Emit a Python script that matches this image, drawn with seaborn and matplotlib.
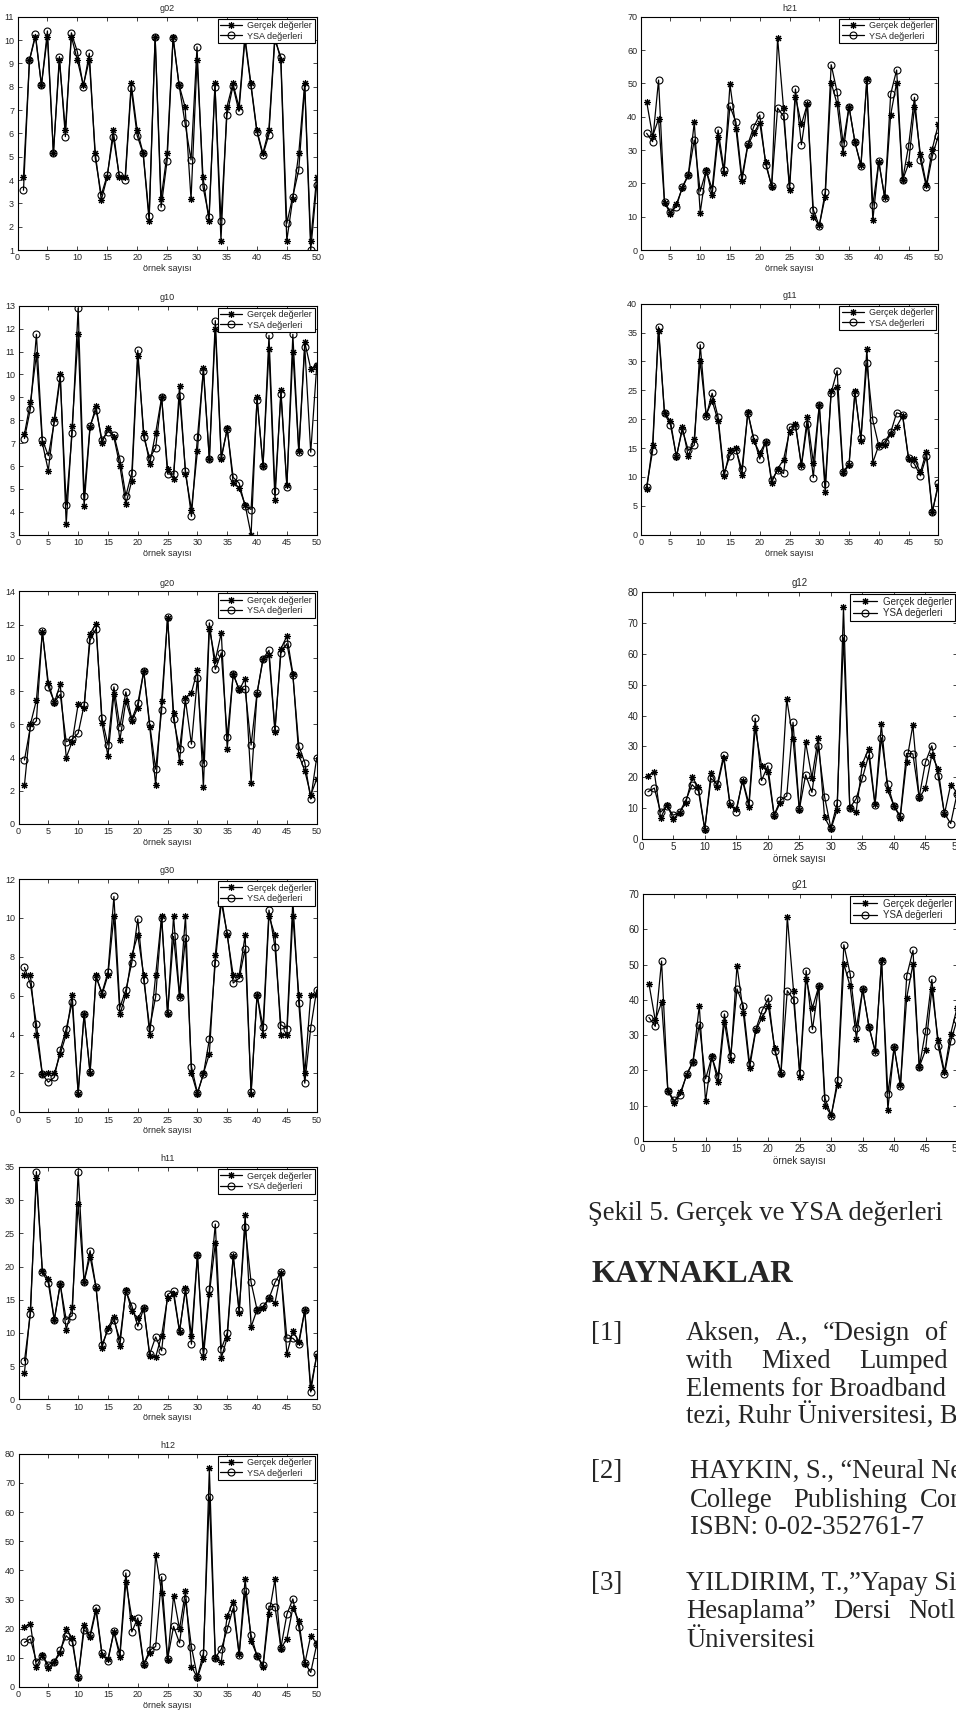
import matplotlib
matplotlib.use("Agg")
import matplotlib.pyplot as plt
import numpy as np
import seaborn as sns

# sample index (örnek sayısı)
x = np.arange(1, 51)

g02_gercek = [4.14, 9.14, 10.15, 8.07, 10.15, 5.14, 9.14, 6.14, 10.15, 9.14,
              8.07, 9.14, 5.14, 3.14, 4.14, 6.14, 4.14, 4.14, 8.14, 6.14,
              5.14, 2.23, 10.15, 3.2, 5.14, 10.15, 8.07, 7.14, 3.17, 9.14,
              4.14, 2.23, 8.14, 1.4, 7.14, 8.14, 7.14, 10.15, 8.14, 6.14,
              5.14, 6.14, 10.15, 9.14, 1.4, 3.2, 5.14, 8.14, 1.4, 4.14]
g02_ysa = [3.56, 9.14, 10.24, 8.06, 10.39, 5.14, 9.29, 5.86, 10.31, 9.5,
           8.0, 9.43, 4.93, 3.36, 4.21, 5.86, 4.21, 4.0, 7.93, 5.9,
           5.14, 2.46, 10.15, 2.83, 4.83, 10.07, 8.07, 6.43, 4.86, 9.71,
           3.71, 2.43, 8.0, 2.26, 6.79, 8.03, 6.94, 10.0, 8.06, 6.07,
           5.07, 5.93, 10.0, 9.29, 2.14, 3.29, 4.43, 8.0, 1.0, 3.79]

g10_gercek = [7.4, 8.8, 10.85, 7.0, 5.8, 8.05, 10.0, 3.45, 7.75, 11.75,
              4.25, 7.7, 8.6, 7.0, 7.65, 7.25, 6.0, 4.35, 5.35, 10.8,
              7.45, 6.1, 7.45, 9.0, 5.85, 5.45, 9.5, 5.65, 4.1, 6.65,
              10.3, 6.3, 12.0, 6.3, 7.65, 5.25, 5.05, 4.3, 3.0, 9.0,
              6.0, 11.1, 4.5, 9.3, 5.15, 11.0, 6.65, 11.4, 10.25, 10.4]
g10_ysa = [7.2, 8.5, 11.75, 7.15, 6.45, 7.9, 9.85, 4.3, 7.45, 12.9,
           4.7, 7.75, 8.45, 7.15, 7.5, 7.35, 6.3, 4.7, 5.7, 11.05,
           7.25, 6.35, 6.8, 9.0, 5.65, 5.65, 9.05, 5.8, 3.8, 7.25,
           10.15, 6.3, 12.35, 6.4, 7.6, 5.5, 5.25, 4.25, 4.1, 8.9,
           6.0, 11.7, 4.9, 9.15, 5.1, 11.75, 6.6, 11.2, 6.6, 10.35]

g20_gercek = [2.35, 6.0, 7.45, 11.55, 8.5, 7.3, 8.4, 4.0, 4.95, 7.2,
              6.95, 11.45, 12.05, 6.05, 4.1, 7.8, 5.05, 7.4, 6.2, 7.0,
              9.2, 5.85, 2.35, 7.4, 12.4, 6.7, 3.75, 7.6, 7.9, 9.25,
              2.2, 11.75, 9.85, 11.5, 4.5, 9.05, 8.05, 8.75, 2.45, 7.85,
              9.9, 10.15, 5.55, 10.55, 11.3, 9.05, 4.15, 3.2, 1.75, 2.7]
g20_ysa = [3.85, 5.85, 6.2, 11.6, 8.25, 7.35, 7.8, 4.95, 5.1, 5.45,
           7.15, 11.05, 11.75, 6.35, 4.75, 8.25, 5.85, 7.95, 6.3, 7.25,
           9.2, 6.0, 3.3, 6.85, 12.45, 6.3, 4.5, 7.45, 4.8, 8.8,
           3.65, 12.1, 9.3, 10.3, 5.25, 9.0, 8.1, 8.1, 4.75, 7.9,
           9.95, 10.45, 5.7, 10.3, 10.85, 8.95, 4.7, 3.7, 1.5, 4.0]

g30_gercek = [7.05, 7.05, 4.0, 1.95, 2.0, 2.0, 3.0, 4.0, 6.05, 0.95,
              5.05, 2.0, 7.05, 6.05, 7.05, 10.1, 5.05, 6.05, 8.1, 9.1,
              7.05, 4.0, 7.05, 10.1, 5.05, 10.1, 6.0, 10.1, 2.0, 0.95,
              2.0, 3.0, 8.1, 11.1, 9.1, 7.05, 7.05, 9.1, 0.95, 6.05,
              4.0, 10.1, 9.1, 4.0, 4.0, 10.1, 6.05, 2.0, 6.05, 6.05]
g30_ysa = [7.45, 6.6, 4.55, 1.95, 1.55, 1.8, 3.2, 4.3, 5.65, 1.0,
           5.05, 2.05, 6.95, 6.15, 7.2, 11.1, 5.4, 6.3, 7.7, 9.95,
           6.8, 4.35, 5.95, 10.0, 5.1, 9.05, 5.95, 8.95, 2.35, 1.0,
           1.95, 3.75, 7.7, 10.8, 9.2, 6.65, 6.9, 8.4, 1.05, 6.05,
           4.4, 10.4, 8.5, 4.5, 4.3, 10.9, 5.6, 1.5, 4.35, 6.3]

h11_gercek = [4.0, 13.6, 33.3, 19.3, 18.2, 12.0, 17.4, 10.5, 13.9, 29.4,
              17.7, 21.5, 16.8, 7.8, 10.8, 12.4, 8.1, 16.5, 13.3, 12.2,
              13.8, 6.5, 6.4, 9.6, 15.3, 15.8, 10.2, 16.7, 9.6, 21.8,
              6.3, 15.9, 23.5, 6.2, 9.3, 21.6, 13.0, 27.7, 10.9, 13.5,
              13.7, 15.2, 14.5, 19.1, 6.8, 10.3, 8.7, 13.4, 1.9, 6.5]
h11_ysa = [5.8, 12.9, 34.3, 19.2, 17.5, 11.9, 17.3, 12.0, 12.6, 34.3,
           17.7, 22.4, 16.9, 8.2, 10.5, 11.9, 9.0, 16.3, 14.1, 11.0,
           13.7, 6.8, 9.4, 7.3, 15.8, 16.3, 10.3, 16.5, 8.3, 21.7,
           7.3, 16.6, 26.4, 7.6, 10.0, 21.7, 13.4, 26.0, 17.6, 13.5,
           14.0, 15.2, 17.6, 19.2, 9.2, 9.2, 8.3, 13.4, 1.1, 6.8]

h12_gercek = [20.5, 21.7, 6.9, 11.0, 6.6, 8.5, 11.8, 20.0, 16.8, 3.0,
              21.4, 17.0, 26.2, 11.0, 9.6, 18.8, 10.4, 35.9, 23.8, 21.8,
              7.6, 11.8, 45.3, 32.4, 9.3, 31.3, 19.9, 32.8, 7.0, 3.2,
              9.5, 75.0, 10.0, 8.7, 24.4, 29.3, 11.2, 37.1, 15.8, 10.8,
              6.9, 24.9, 36.9, 13.2, 16.6, 27.1, 22.8, 8.0, 17.6, 15.0]
h12_ysa = [15.3, 16.5, 8.7, 10.7, 7.7, 8.6, 12.6, 17.6, 15.5, 3.3,
           19.6, 17.8, 27.2, 11.5, 8.9, 19.2, 11.5, 39.1, 18.9, 23.7,
           7.8, 12.6, 13.9, 37.8, 9.6, 20.8, 15.1, 30.1, 13.7, 3.5,
           11.6, 65.2, 10.1, 13.0, 19.8, 27.1, 11.0, 32.8, 17.8, 10.6,
           7.5, 27.7, 27.6, 13.5, 24.9, 30.2, 20.5, 8.3, 5.0, 14.6]

h21_gercek = [44.5, 34.2, 39.3, 14.2, 10.9, 13.8, 18.6, 22.5, 38.3, 11.2,
              24.0, 16.6, 33.8, 23.0, 49.7, 36.4, 20.6, 31.4, 35.0, 38.2,
              26.4, 19.0, 63.6, 42.5, 18.0, 46.0, 37.7, 43.8, 9.9, 7.4,
              16.0, 50.2, 43.8, 29.0, 43.0, 32.3, 25.5, 51.2, 8.9, 26.5,
              15.8, 40.6, 50.2, 21.0, 25.8, 43.0, 28.7, 19.6, 30.4, 37.7]
h21_ysa = [35.0, 32.5, 51.0, 14.3, 11.5, 13.0, 19.0, 22.5, 33.0, 17.6,
           23.8, 18.3, 36.0, 24.1, 43.1, 38.4, 21.9, 31.7, 37.0, 40.5,
           25.6, 19.3, 42.6, 40.1, 19.2, 48.3, 31.6, 44.0, 12.1, 7.2,
           17.4, 55.6, 47.4, 32.1, 43.0, 32.3, 25.2, 51.0, 13.4, 26.6,
           15.6, 46.8, 54.0, 21.0, 31.2, 45.8, 27.0, 18.9, 28.2, 34.3]

g11_gercek = [7.9, 15.6, 35.3, 21.0, 19.7, 13.4, 18.6, 13.6, 16.6, 30.1,
              20.8, 23.2, 19.7, 10.1, 14.7, 15.0, 10.3, 21.2, 16.3, 14.1,
              16.1, 9.0, 11.4, 13.0, 17.8, 19.1, 12.1, 20.3, 12.5, 22.4,
              7.4, 24.9, 25.6, 10.6, 12.1, 24.8, 16.3, 32.1, 12.5, 15.5,
              15.6, 17.5, 18.7, 20.6, 13.1, 13.1, 10.8, 14.4, 4.0, 8.5]
g11_ysa = [8.3, 14.5, 36.0, 21.0, 19.0, 13.6, 18.2, 14.6, 15.5, 32.9,
           20.5, 24.5, 20.4, 10.6, 13.7, 14.7, 11.3, 21.1, 16.7, 13.1,
           16.1, 9.4, 11.2, 10.6, 18.6, 18.9, 11.9, 19.2, 9.9, 22.4,
           8.7, 24.6, 28.4, 10.9, 12.2, 24.6, 16.7, 29.7, 19.8, 15.4,
           16.1, 17.7, 21.1, 20.8, 13.3, 12.2, 10.2, 13.6, 3.9, 8.9]

# g12 and g21 repeat the h12 / h21 series in the original figure
g12_gercek, g12_ysa = h12_gercek, h12_ysa
g21_gercek, g21_ysa = h21_gercek, h21_ysa

W, H = 956, 1716

sns.set_style("ticks")
plt.rcParams["font.family"] = ["Liberation Sans", "DejaVu Sans"]

fig = plt.figure(figsize=(W / 100, H / 100), dpi=100)


def px_axes(left, top, right, bottom):
    return fig.add_axes([left / W, 1 - bottom / H, (right - left) / W, (bottom - top) / H])


def panel(rect, title, gercek, ysa, ylo, yhi, ystep, fs=6.5):
    ax = px_axes(*rect)
    sns.lineplot(x=x, y=gercek, ax=ax, color="k", lw=0.9, marker=(8, 2, 0),
                 markersize=5, markeredgecolor="k", markeredgewidth=0.8,
                 label="Gerçek değerler", errorbar=None, sort=False)
    sns.lineplot(x=x, y=ysa, ax=ax, color="k", lw=0.9, marker="o",
                 markersize=5, markerfacecolor="none", markeredgecolor="k",
                 markeredgewidth=0.8, label="YSA değerleri", errorbar=None, sort=False)
    ax.set_xlim(0, 50)
    ax.set_ylim(ylo, yhi)
    ax.set_xticks(np.arange(0, 51, 5))
    ax.set_yticks(np.arange(ylo, yhi + ystep / 2, ystep))
    ax.tick_params(direction="in", top=True, right=True, length=3, width=0.6,
                   labelsize=fs, pad=2.5)
    for s in ax.spines.values():
        s.set_color("k")
        s.set_linewidth(0.8)
    ax.set_title(title, fontsize=fs, pad=4)
    ax.set_xlabel("örnek sayısı", fontsize=fs, labelpad=1)
    ax.set_ylabel("")
    ax.legend(loc="upper right", fontsize=fs, frameon=True, fancybox=False,
              edgecolor="k", framealpha=1, borderaxespad=0.2, borderpad=0.3,
              labelspacing=0.15, handlelength=2.4, handletextpad=0.6)
    ax.get_legend().get_frame().set_linewidth(0.8)
    return ax


# left column
panel((17.5, 16.7, 316.7, 250), "g02", g02_gercek, g02_ysa, 1, 11, 1)
panel((18.5, 305.7, 316.7, 534.7), "g10", g10_gercek, g10_ysa, 3, 13, 1)
panel((18.5, 591.3, 316.7, 824), "g20", g20_gercek, g20_ysa, 0, 14, 2)
panel((18.5, 879, 316.7, 1112.3), "g30", g30_gercek, g30_ysa, 0, 12, 2)
panel((18.5, 1167, 316.7, 1399.3), "h11", h11_gercek, h11_ysa, 0, 35, 5)
panel((18.5, 1453.7, 316.7, 1687), "h12", h12_gercek, h12_ysa, 0, 80, 10)

# right column
panel((640.7, 16.7, 938.3, 250), "h21", h21_gercek, h21_ysa, 0, 70, 10)
panel((640.7, 303.7, 938.3, 534.7), "g11", g11_gercek, g11_ysa, 0, 40, 5)
panel((641.7, 592, 957, 839), "g12", g12_gercek, g12_ysa, 0, 80, 10, fs=7)
panel((642.7, 894, 957, 1141), "g21", g21_gercek, g21_ysa, 0, 70, 10, fs=7)

# caption and references (clipped by the page edge as in the original)
serif = ["Liberation Serif", "DejaVu Serif"]
FS = 19.2
renderer = fig.canvas.get_renderer()


def ptext(xp, yp, s, size=FS, weight="normal"):
    return fig.text(xp / W, 1 - yp / H, s, fontsize=size, family=serif,
                    fontweight=weight, ha="left", va="baseline")


def justify(words, x0, x1, yp):
    # spread the words so the line runs from x0 to x1, like the justified page text
    texts = [ptext(x0, yp, w) for w in words]
    widths = [t.get_window_extent(renderer).width for t in texts]
    gap = (x1 - x0 - sum(widths)) / (len(words) - 1)
    xc = x0
    for t, w in zip(texts, widths):
        t.set_x(xc / W)
        xc += w + gap


ptext(588, 1220, "Şekil 5. Gerçek ve YSA değerleri")
ptext(591, 1281.7, "KAYNAKLAR", size=22.5, weight="bold")

ptext(591, 1340, "[1]")
justify(["Aksen,", "A.,", "“Design", "of"], 686, 947, 1340)
justify(["with", "Mixed", "Lumped"], 686, 948, 1367.7)
ptext(686, 1395.7, "Elements for Broadband")
ptext(686, 1423.3, "tezi, Ruhr Üniversitesi, Bochum")

ptext(591, 1478.3, "[2]")
ptext(690, 1478.3, "HAYKIN, S., “Neural Networks")
ptext(690, 1506.7, "College")
ptext(793.3, 1506.7, "Publishing")
ptext(920, 1506.7, "Company")
ptext(690, 1534.3, "ISBN: 0-02-352761-7")

ptext(591, 1590, "[3]")
ptext(686, 1590, "YILDIRIM, T.,”Yapay Sinir")
ptext(686, 1618.3, "Hesaplama”")
ptext(833, 1618.3, "Dersi")
ptext(908, 1618.3, "Notları")
ptext(686, 1646.7, "Üniversitesi")

fig.savefig("out.png", dpi=100)
